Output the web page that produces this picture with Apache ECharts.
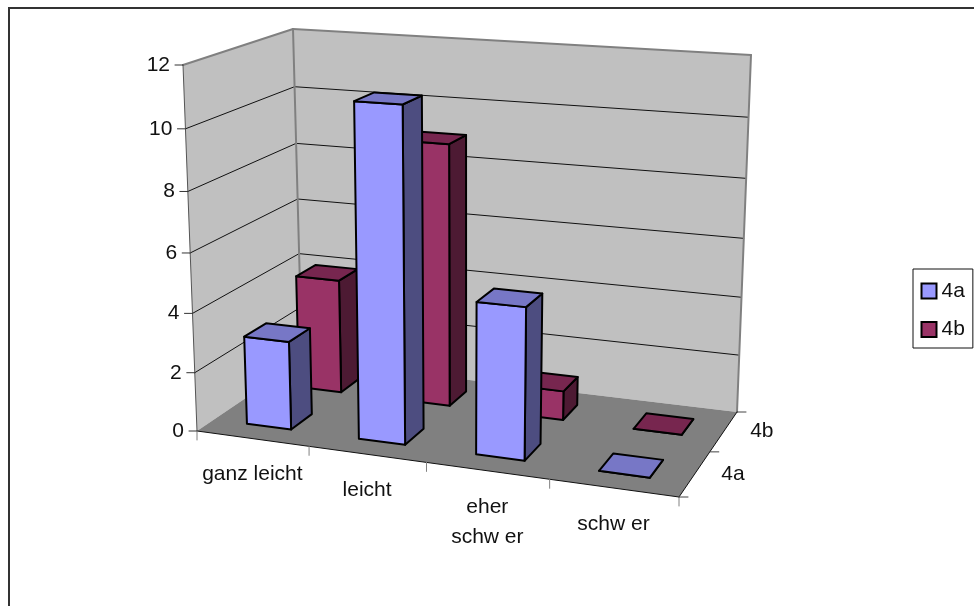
<!DOCTYPE html>
<html>
<head>
<meta charset="utf-8">
<style>html,body{margin:0;padding:0;background:#fff}#chart{width:974px;height:606px}</style>
<script src="https://cdn.jsdelivr.net/npm/echarts@6/dist/echarts.min.js"></script>
</head>
<body>
<div id="chart"></div>
<script>
const categories = ['ganz leicht', 'leicht', 'eher\nschw er', 'schw er'];
const seriesNames = ['4a', '4b'];
const values4a = [3, 11, 5, 0];
const values4b = [4, 9, 1, 0];
const valueTicks = [0, 2, 4, 6, 8, 10, 12];

const FONT = '21px "Liberation Sans", Arial, sans-serif';
const TEXT = '#111';

// Scene box corners on the page, ordered front-left, front-right, back-right, back-left.
const floorBox = [[197, 431], [679, 497], [737, 412], [302, 360]];
const ceilBox = [[183, 65], [691, 98], [751, 55], [293, 29]];
const riseBend = -0.053;

function homography(c) {
  const dx1 = c[1][0] - c[2][0], dy1 = c[1][1] - c[2][1];
  const dx2 = c[3][0] - c[2][0], dy2 = c[3][1] - c[2][1];
  const sx = c[0][0] - c[1][0] + c[2][0] - c[3][0];
  const sy = c[0][1] - c[1][1] + c[2][1] - c[3][1];
  const det = dx1 * dy2 - dy1 * dx2;
  const g = (sx * dy2 - sy * dx2) / det;
  const h = (dx1 * sy - dy1 * sx) / det;
  return (u, d) => {
    const w = 1 + g * u + h * d;
    return [
      (c[0][0] + u * (c[1][0] * (1 + g) - c[0][0]) + d * (c[3][0] * (1 + h) - c[0][0])) / w,
      (c[0][1] + u * (c[1][1] * (1 + g) - c[0][1]) + d * (c[3][1] * (1 + h) - c[0][1])) / w
    ];
  };
}
const floorMap = homography(floorBox);
const ceilMap = homography(ceilBox);

// u: along the categories, v: up the value axis, d: into the depth; all 0..1.
function project(u, v, d) {
  const t = v * (1 + riseBend) / (1 + riseBend * v);
  const a = floorMap(u, d), b = ceilMap(u, d);
  return [a[0] + (b[0] - a[0]) * t, a[1] + (b[1] - a[1]) * t];
}

// Axis scales give grid pixels, which are turned into 0..1 before projecting.
function scaler(params, api) {
  const cs = params.coordSys;
  return (x, y, d) => {
    const p = api.coord([x, y]);
    return project((p[0] - cs.x) / cs.width, 1 - (p[1] - cs.y) / cs.height, d);
  };
}

function poly(points, fill, stroke, lineWidth) {
  return { type: 'polygon', shape: { points }, silent: true,
    style: { fill, stroke: stroke || null, lineWidth: lineWidth || 0, lineJoin: 'round' } };
}
function seg(a, b, stroke, lineWidth) {
  return { type: 'line', shape: { x1: a[0], y1: a[1], x2: b[0], y2: b[1] }, silent: true,
    style: { stroke, lineWidth, lineCap: 'round' } };
}
function label(text, x, y, align, verticalAlign, lineHeight) {
  return { type: 'text', silent: true,
    style: { text, x, y, align, verticalAlign, font: FONT, fill: TEXT, lineHeight: lineHeight || 30 } };
}

function renderFrame(params, api) {
  const at = scaler(params, api);
  const nCat = categories.length, top = valueTicks[valueTicks.length - 1];
  const kids = [];
  // walls and floor
  kids.push(poly([at(0, 0, 0), at(0, top, 0), at(0, top, 1), at(0, 0, 1)], '#C0C0C0'));
  kids.push(poly([at(0, 0, 1), at(0, top, 1), at(nCat, top, 1), at(nCat, 0, 1)], '#C0C0C0'));
  kids.push(poly([at(0, 0, 0), at(nCat, 0, 0), at(nCat, 0, 1), at(0, 0, 1)], '#808080'));
  // gridlines
  valueTicks.slice(1, -1).forEach(t => {
    kids.push(seg(at(0, t, 0), at(0, t, 1), '#111', 1));
    kids.push(seg(at(0, t, 1), at(nCat, t, 1), '#111', 1));
  });
  // wall edges
  kids.push(seg(at(0, top, 0), at(0, top, 1), '#808080', 2));
  kids.push(seg(at(0, top, 1), at(nCat, top, 1), '#808080', 2));
  kids.push(seg(at(0, top, 1), at(0, 0, 1), '#808080', 2));
  kids.push(seg(at(nCat, top, 1), at(nCat, 0, 1), '#808080', 2));
  kids.push(seg(at(0, top, 0), at(0, 0, 0), '#555', 1));
  // floor edges
  kids.push(seg(at(0, 0, 0), at(nCat, 0, 0), '#111', 1));
  kids.push(seg(at(nCat, 0, 0), at(nCat, 0, 1), '#111', 1));
  // value axis ticks and labels
  valueTicks.forEach(t => {
    const p = at(0, t, 0);
    kids.push(seg([p[0] - 8, p[1]], p, '#333', 1));
    kids.push(label(String(t), p[0] - 13, p[1], 'right', 'middle'));
  });
  // category ticks and labels
  for (let i = 0; i <= nCat; i++) {
    const p = at(i, 0, 0);
    kids.push(seg(p, [p[0], p[1] + 9], '#808080', 1));
  }
  categories.forEach((name, i) => {
    const p = at(i + 0.5, 0, 0);
    kids.push(label(name, p[0], p[1] + 21, 'center', 'top'));
  });
  // depth ticks and labels
  [0, 0.5, 1].forEach(d => {
    const p = at(nCat, 0, d);
    kids.push(seg(p, [p[0] + 9, p[1]], '#444', 1));
  });
  seriesNames.forEach((name, s) => {
    const p = at(nCat, 0, (s + 0.5) / seriesNames.length);
    kids.push(label(name, p[0] + 38, p[1], 'center', 'middle'));
  });
  return { type: 'group', children: kids };
}

function barRenderer(slot, front, topFace, side) {
  const nSlots = seriesNames.length;
  return function (params, api) {
    const at = scaler(params, api);
    const i = api.value(0), val = api.value(1);
    const x0 = i + 0.3, x1 = i + 0.7;
    const d0 = (slot + 0.3) / nSlots, d1 = (slot + 0.7) / nSlots;
    const edge = '#000', w = 2;
    const kids = [poly([at(x1, 0, d0), at(x1, 0, d1), at(x1, val, d1), at(x1, val, d0)], side, edge, w)];
    kids.push(poly([at(x0, 0, d0), at(x1, 0, d0), at(x1, val, d0), at(x0, val, d0)], front, edge, w));
    kids.push(poly([at(x0, val, d0), at(x1, val, d0), at(x1, val, d1), at(x0, val, d1)], topFace, edge, w));
    return { type: 'group', children: kids };
  };
}

const chart = echarts.init(document.getElementById('chart'), null, { renderer: 'canvas' });
chart.setOption({
  animation: false,
  backgroundColor: '#fff',
  grid: { left: 100, top: 100, width: 400, height: 400, show: false },
  xAxis: { type: 'value', min: 0, max: categories.length, show: false },
  yAxis: { type: 'value', min: 0, max: 12, interval: 2, show: false },
  legend: {
    data: seriesNames, orient: 'vertical', left: 913, top: 269,
    padding: [11.5, 8, 8, 7.5], itemGap: 17.5, itemWidth: 15, itemHeight: 15, icon: 'rect',
    backgroundColor: '#fff', borderColor: '#111', borderWidth: 1, borderRadius: 0,
    textStyle: { fontFamily: '"Liberation Sans", Arial, sans-serif', fontSize: 21, color: TEXT },
    selectedMode: false
  },
  graphic: [{
    type: 'polyline', silent: true, z: 0,
    shape: { points: [[974, 8], [9, 8], [9, 606]] },
    style: { fill: null, stroke: '#333', lineWidth: 2 }
  }],
  series: [
    { type: 'custom', name: 'frame', z: 1, data: [[0, 0]], encode: { x: 0, y: 1 }, renderItem: renderFrame, tooltip: { show: false } },
    { type: 'custom', name: seriesNames[1], z: 2, itemStyle: { color: '#993366', borderColor: '#000', borderWidth: 1.5 },
      data: values4b.map((v, i) => [i, v]), encode: { x: 0, y: 1 },
      renderItem: barRenderer(1, '#993366', '#77264F', '#4D1A33') },
    { type: 'custom', name: seriesNames[0], z: 3, itemStyle: { color: '#9999FF', borderColor: '#000', borderWidth: 1.5 },
      data: values4a.map((v, i) => [i, v]), encode: { x: 0, y: 1 },
      renderItem: barRenderer(0, '#9999FF', '#7777C6', '#4D4D80') }
  ]
});
</script>
</body>
</html>
